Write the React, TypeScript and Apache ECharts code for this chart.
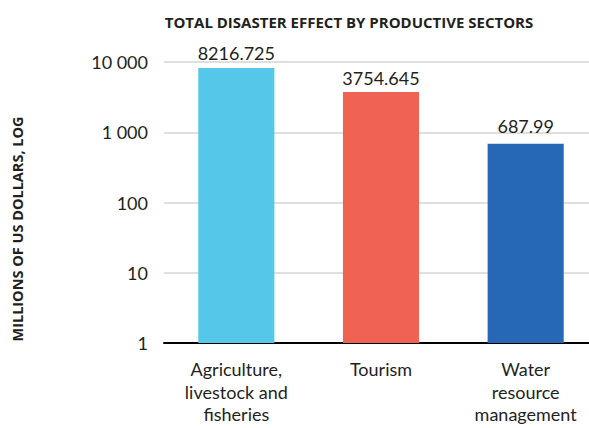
import React, { useEffect, useRef } from "react";
import * as echarts from "echarts";

const sectors = ["Agriculture,\nlivestock and\nfisheries", "Tourism", "Water\nresource\nmanagement"];
const effectValues = [8216.725, 3754.645, 687.99];
const barColors = ["#55C8EA", "#F06353", "#2768B6"];
const labelGaps = [6, 5, 9];

const TEXT = "#231F20";
const FONT = "Lato, 'Open Sans', sans-serif";
const TITLE_FONT = "'Open Sans', Lato, sans-serif";

export default function App() {
  const ref = useRef<HTMLDivElement>(null);

  useEffect(() => {
    document.body.style.margin = "0";
    const chart = echarts.init(ref.current!, null, { renderer: "svg" });
    chart.setOption({
      animation: false,
      backgroundColor: "#ffffff",
      title: {
        text: "TOTAL DISASTER EFFECT BY PRODUCTIVE SECTORS",
        left: 344,
        textAlign: "center",
        top: 9,
        textStyle: { fontFamily: TITLE_FONT, fontWeight: "bold", fontSize: 15, color: TEXT },
      },
      graphic: [
        {
          type: "text",
          x: 17,
          y: 229,
          rotation: Math.PI / 2,
          style: {
            text: "MILLIONS OF US DOLLARS, LOG",
            fontFamily: TITLE_FONT,
            fontWeight: "bold",
            fontSize: 14.5,
            fill: TEXT,
            align: "center",
            verticalAlign: "middle",
          },
        },
      ],
      grid: { left: 164, top: 62, bottom: 85, right: -9, containLabel: false, outerBoundsMode: "none" },
      xAxis: {
        type: "category",
        data: sectors,
        axisLine: { show: true, lineStyle: { color: "#000000", width: 2 } },
        axisTick: { show: false },
        axisLabel: { fontFamily: FONT, fontSize: 18, color: TEXT, lineHeight: 22.5, margin: 15, interval: 0 },
      },
      yAxis: {
        type: "log",
        logBase: 10,
        min: 1,
        max: 10000,
        axisLine: { show: false },
        axisTick: { show: false },
        splitLine: { show: true, lineStyle: { color: "#D4D4D4", width: 1.5 } },
        axisLabel: {
          fontFamily: FONT,
          fontSize: 18,
          color: TEXT,
          margin: 16,
          formatter: (v: number) => String(Math.round(v)).replace(/\B(?=(\d{3})+(?!\d))/g, " "),
        },
      },
      series: [
        {
          type: "bar",
          barWidth: "52.6%",
          data: effectValues.map((v, i) => ({
            value: v,
            itemStyle: { color: barColors[i] },
            label: { distance: labelGaps[i] },
          })),
          label: {
            show: true,
            position: "top",
            fontFamily: FONT,
            fontSize: 18,
            color: TEXT,
            formatter: (p: any) => String(p.value),
          },
        },
      ],
    });
    return () => chart.dispose();
  }, []);

  return <div ref={ref} style={{ width: 589, height: 428 }} />;
}
